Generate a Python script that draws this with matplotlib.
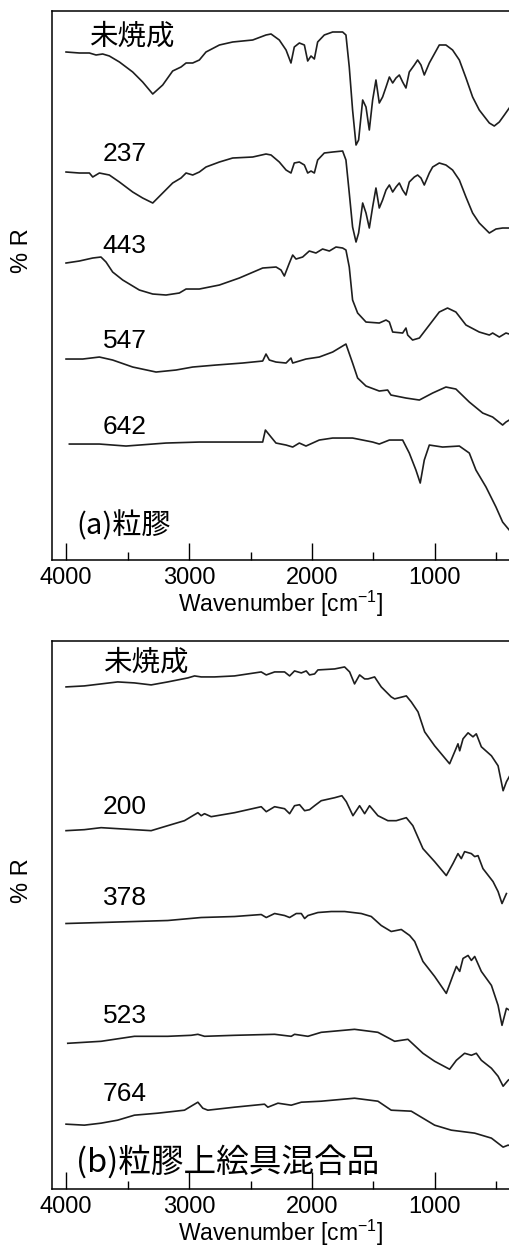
import matplotlib
matplotlib.use('Agg')
import matplotlib.pyplot as plt
from matplotlib.ticker import MultipleLocator

plt.rcParams['font.family'] = ['Liberation Sans', 'Noto Sans CJK JP']
plt.rcParams['mathtext.fontset'] = 'custom'
plt.rcParams['mathtext.rm'] = 'Liberation Sans'

# ---- (a) 粒膠 : wavenumber [cm-1], %R (offset, arbitrary units) ----
wn_a0 = [4000, 3892, 3810, 3756, 3702, 3648, 3566, 3458, 3377, 3295, 3214, 3133, 3065, 3024, 2970, 2916,
         2862, 2753, 2645, 2482, 2374, 2333, 2266, 2211, 2171, 2144, 2103, 2062, 2035, 2008, 1981, 1954,
         1900, 1832, 1751, 1724, 1697, 1670, 1642, 1621, 1588, 1561, 1534, 1507, 1480, 1453, 1426, 1398,
         1371, 1344, 1317, 1290, 1263, 1236, 1209, 1168, 1141, 1114, 1087, 1046, 1019, 965, 911, 857,
         802, 748, 694, 640, 558, 518, 477, 436, 396]
r_a0 = [508, 507, 507, 505, 506, 504, 498, 488, 478, 466, 475, 489, 493, 497, 497, 500,
        508, 515, 518, 520, 525, 526, 520, 510, 497, 513, 517, 515, 499, 504, 501, 518,
        525, 528, 528, 525, 493, 450, 415, 420, 460, 453, 430, 460, 480, 457, 463, 473,
        483, 477, 482, 485, 478, 472, 488, 495, 500, 495, 485, 497, 503, 515, 515, 510,
        500, 482, 463, 450, 437, 434, 438, 445, 452]

wn_a1 = [4000, 3892, 3810, 3783, 3729, 3648, 3566, 3458, 3377, 3295, 3214, 3133, 3065, 3024, 2970, 2916,
         2862, 2753, 2645, 2482, 2374, 2333, 2266, 2211, 2171, 2144, 2103, 2062, 2035, 2008, 1981, 1954,
         1900, 1832, 1751, 1724, 1697, 1670, 1642, 1621, 1588, 1561, 1534, 1507, 1480, 1453, 1426, 1398,
         1371, 1344, 1317, 1290, 1263, 1236, 1209, 1168, 1141, 1114, 1087, 1046, 1019, 965, 911, 857,
         802, 748, 694, 640, 558, 504, 450, 396]
r_a1 = [388, 387, 387, 383, 387, 385, 378, 368, 362, 357, 367, 377, 382, 387, 385, 388,
        393, 398, 402, 403, 406, 405, 398, 390, 387, 397, 398, 395, 387, 389, 387, 400,
        407, 408, 409, 400, 367, 333, 318, 327, 357, 347, 332, 353, 372, 352, 360, 370,
        375, 368, 373, 377, 370, 365, 378, 383, 385, 382, 375, 387, 393, 397, 395, 390,
        380, 363, 347, 337, 327, 331, 332, 332]

wn_a2 = [4000, 3892, 3783, 3716, 3675, 3621, 3539, 3404, 3295, 3187, 3079, 3024, 2916, 2753, 2591, 2401,
         2292, 2252, 2225, 2184, 2157, 2130, 2076, 2022, 1968, 1914, 1859, 1805, 1751, 1724, 1697, 1670,
         1629, 1561, 1453, 1398, 1371, 1344, 1263, 1236, 1222, 1182, 1127, 1046, 965, 898, 830, 748,
         640, 558, 531, 477, 423, 396]
r_a2 = [297, 299, 302, 303, 298, 288, 280, 270, 266, 265, 267, 271, 271, 275, 282, 292,
        293, 290, 284, 297, 305, 301, 303, 309, 307, 311, 309, 313, 312, 310, 293, 260,
        247, 238, 237, 240, 238, 228, 227, 232, 225, 220, 222, 235, 248, 252, 248, 235,
        228, 225, 227, 223, 227, 226]

wn_a3 = [4000, 3864, 3729, 3621, 3458, 3268, 3106, 2970, 2780, 2564, 2401, 2374, 2347, 2293, 2211, 2171,
         2157, 2049, 1941, 1832, 1724, 1670, 1629, 1561, 1453, 1385, 1358, 1236, 1127, 1019, 911, 830,
         721, 612, 531, 450, 423, 396]
r_a3 = [201, 201, 203, 200, 193, 188, 190, 193, 195, 197, 199, 206, 200, 198, 197, 202,
        197, 201, 203, 208, 216, 197, 182, 174, 169, 170, 165, 162, 160, 167, 173, 171,
        158, 147, 143, 135, 138, 140]

wn_a4 = [3973, 3729, 3512, 3187, 2916, 2645, 2401, 2379, 2333, 2293, 2211, 2157, 2103, 2049, 1941, 1832,
         1670, 1507, 1453, 1371, 1263, 1209, 1155, 1120, 1087, 1046, 938, 802, 721, 667, 585, 504,
         450, 396]
r_a4 = [116, 116, 114, 117, 118, 118, 118, 130, 123, 117, 115, 113, 117, 114, 120, 122,
        122, 118, 116, 120, 120, 107, 90, 77, 100, 115, 113, 114, 107, 90, 73, 53,
        38, 30]

# ---- (b) 粒膠上絵具混合品 ----
wn_b0 = [4000, 3851, 3715, 3580, 3444, 3308, 3173, 3010, 2955, 2901, 2793, 2630, 2413, 2372, 2304, 2223,
         2182, 2142, 2087, 2047, 2020, 1979, 1952, 1816, 1735, 1694, 1654, 1613, 1572, 1545, 1491, 1437,
         1356, 1328, 1233, 1193, 1138, 1084, 1003, 881, 840, 813, 799, 772, 731, 691, 664, 623,
         541, 487, 446, 419, 392]
r_b0 = [503, 504, 506, 508, 507, 505, 508, 512, 514, 513, 513, 514, 518, 515, 518, 518,
        514, 519, 517, 519, 515, 516, 520, 521, 523, 518, 506, 515, 511, 511, 513, 503,
        493, 491, 494, 488, 478, 458, 444, 426, 438, 446, 439, 451, 457, 453, 456, 443,
        434, 424, 399, 408, 414]

wn_b1 = [4000, 3851, 3715, 3580, 3444, 3308, 3173, 3037, 2969, 2928, 2901, 2874, 2820, 2630, 2413, 2372,
         2304, 2223, 2182, 2142, 2101, 2060, 2020, 1979, 1925, 1816, 1757, 1721, 1667, 1613, 1572, 1532,
         1464, 1383, 1315, 1233, 1180, 1098, 1003, 908, 854, 813, 786, 759, 704, 677, 650, 610,
         528, 487, 455, 419]
r_b1 = [359, 360, 362, 361, 360, 359, 364, 369, 374, 377, 374, 376, 373, 377, 383, 378,
        383, 381, 376, 384, 385, 379, 380, 384, 389, 392, 394, 388, 374, 384, 376, 384,
        374, 369, 369, 372, 364, 341, 328, 314, 326, 336, 331, 338, 336, 333, 334, 321,
        308, 298, 286, 296]

wn_b2 = [4000, 3715, 3444, 3173, 2901, 2630, 2413, 2372, 2304, 2223, 2182, 2128, 2087, 2060, 2033, 1952,
         1843, 1735, 1599, 1518, 1437, 1356, 1274, 1206, 1165, 1098, 1003, 908, 854, 826, 799, 772,
         731, 704, 677, 623, 541, 487, 455, 419, 392]
r_b2 = [266, 267, 268, 269, 272, 273, 275, 272, 276, 274, 272, 276, 276, 271, 274, 277,
        278, 278, 276, 273, 264, 258, 260, 254, 248, 228, 213, 196, 214, 223, 218, 231,
        234, 229, 233, 218, 204, 184, 164, 181, 179]

wn_b3 = [3986, 3715, 3444, 3173, 2983, 2928, 2874, 2630, 2304, 2169, 2142, 2033, 1925, 1654, 1464, 1328,
         1220, 1098, 1003, 881, 826, 759, 704, 664, 623, 541, 487, 446, 405, 379]
r_b3 = [146, 148, 153, 153, 154, 155, 153, 154, 155, 153, 155, 153, 157, 160, 157, 148,
        150, 136, 128, 120, 129, 136, 134, 136, 129, 121, 113, 103, 109, 111]

wn_b4 = [4000, 3851, 3715, 3580, 3444, 3254, 3037, 2969, 2928, 2888, 2847, 2630, 2386, 2359, 2277, 2169,
         2087, 1925, 1654, 1464, 1356, 1193, 1003, 868, 677, 541, 446, 405, 379]
r_b4 = [65, 64, 66, 69, 74, 76, 79, 84, 87, 81, 79, 82, 85, 82, 86, 84,
        87, 88, 91, 88, 79, 78, 64, 59, 56, 51, 42, 44, 43]

labels_a = ['未焼成', '237', '443', '547', '642']
label_x_a = [3810, 3702, 3702, 3702, 3702]
label_y_a = [523, 406, 314, 219, 133]
labels_b = ['未焼成', '200', '378', '523', '764']
label_x_b = [3702, 3702, 3702, 3702, 3702]
label_y_b = [527, 383, 292, 173, 95]
panel_titles = ['(a)粒膠', '(b)粒膠上絵具混合品']

spectra_a = [(wn_a0, r_a0), (wn_a1, r_a1), (wn_a2, r_a2), (wn_a3, r_a3), (wn_a4, r_a4)]
spectra_b = [(wn_b0, r_b0), (wn_b1, r_b1), (wn_b2, r_b2), (wn_b3, r_b3), (wn_b4, r_b4)]

fig = plt.figure(figsize=(5.10, 12.49), dpi=100)
ax_a = fig.add_axes([0.102, 0.5516, 0.898, 0.4396])
ax_b = fig.add_axes([0.102, 0.0480, 0.898, 0.4388])


def draw_panel(ax, spectra, labels, lx, ly, title, title_y, title_size):
    for wn, r in spectra:
        ax.plot(wn, r, color='#1e1e1e', lw=1.2)
    for t, x, y in zip(labels, lx, ly):
        size = 20.5 if t == '未焼成' else 19
        ax.text(x, y, t, fontsize=size, va='center', ha='left',
                family=['Liberation Sans', 'Noto Sans CJK JP'])
    ax.text(3915, title_y, title, fontsize=title_size, va='center', ha='left',
            family=['Noto Sans CJK JP'])
    ax.set_xlim(4114, 390)
    ax.set_ylim(0, 549)
    ax.xaxis.set_major_locator(MultipleLocator(1000))
    ax.xaxis.set_minor_locator(MultipleLocator(500))
    ax.tick_params(axis='x', which='major', direction='in', length=12, width=1,
                   labelsize=17, pad=5, top=False)
    ax.tick_params(axis='x', which='minor', direction='in', length=6, width=1, top=False)
    ax.set_yticks([])
    ax.spines['right'].set_visible(False)
    for s in ['left', 'top', 'bottom']:
        ax.spines[s].set_linewidth(1.1)
    ax.set_xlabel('Wavenumber [cm$^{-1}$]', fontsize=16.5, labelpad=0)
    ax.set_ylabel('% R', fontsize=17)
    ax.yaxis.set_label_coords(-0.042, 0.563)


draw_panel(ax_a, spectra_a, labels_a, label_x_a, label_y_a, panel_titles[0], 34, 21)
draw_panel(ax_b, spectra_b, labels_b, label_x_b, label_y_b, panel_titles[1], 27, 23.5)

fig.savefig('out.png', dpi=100)
